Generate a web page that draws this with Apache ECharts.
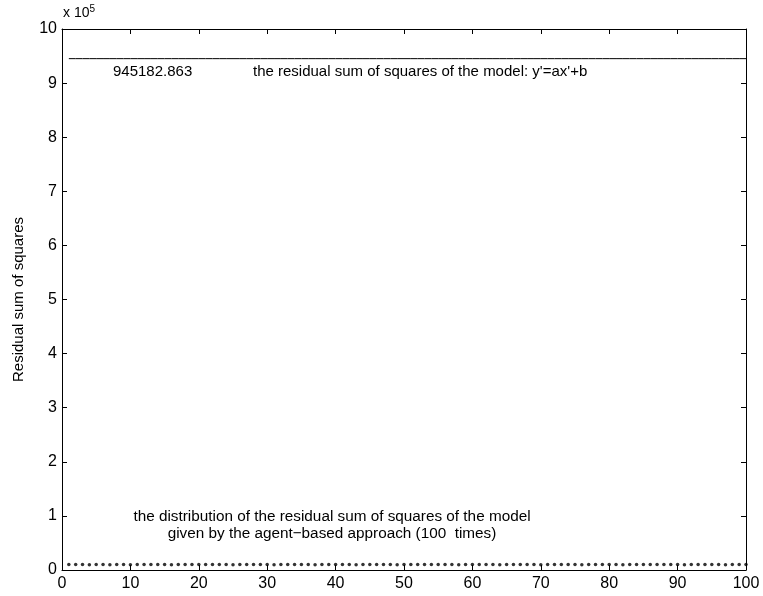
<!DOCTYPE html>
<html><head><meta charset="utf-8">
<script src="https://cdn.jsdelivr.net/npm/echarts@6/dist/echarts.min.js"></script>
<style>html,body{margin:0;padding:0;background:#fff}#c{width:763px;height:596px}</style>
</head><body><div id="c"></div>
<script>
var xTicks = [0,10,20,30,40,50,60,70,80,90,100];
var modelRSS = 945182.863;
var runs = [];
for (var i = 1; i <= 100; i++) runs.push(i);
var agentRSS = [
10120,9980,10250,9870,10060,10190,9930,10110,10040,9890,
10210,10010,9950,10160,10080,9910,10230,10050,9970,10140,
10020,9940,10180,10090,9880,10200,10030,9960,10150,10070,
9920,10240,10000,9990,10130,10060,9900,10170,10040,9950,
10220,10010,9930,10110,10080,9970,10190,10030,9890,10160,
10050,9940,10210,10000,9980,10120,10070,9910,10230,10020,
9960,10140,10090,9900,10180,10040,9950,10200,10010,9930,
10150,10060,9980,10110,10080,9920,10240,10030,9970,10130,
10050,9890,10170,10020,9940,10190,10070,9960,10100,10040,
9910,10220,10000,9990,10160,10080,9930,10120,10050,9970
];
var modelLine = runs.map(function(r){ return [r, modelRSS]; });
var agentPts = runs.map(function(r, k){ return [r, agentRSS[k]]; });

var FONT = 'Liberation Sans';
var chart = echarts.init(document.getElementById('c'), null, {renderer:'canvas'});
var axLine = {show:true, onZero:false, lineStyle:{color:'#000', width:1}};
var tick = {show:true, inside:true, length:5, lineStyle:{color:'#000'}};
chart.setOption({
  backgroundColor:'#fff',
  animation:false,
  grid:{left:62, right:17, top:29, bottom:26, show:false},
  xAxis:[
    {type:'value', min:0, max:100, interval:10, position:'bottom',
     axisLine:axLine, axisTick:tick, splitLine:{show:false},
     axisLabel:{color:'#000', fontFamily:FONT, fontSize:16, margin:6}},
    {type:'value', min:0, max:100, interval:10, position:'top',
     axisLine:axLine, axisTick:tick, splitLine:{show:false}, axisLabel:{show:false}}
  ],
  yAxis:[
    {type:'value', min:0, max:1000000, interval:100000, position:'left',
     axisLine:axLine, axisTick:tick, splitLine:{show:false},
     name:'Residual sum of squares', nameLocation:'middle', nameGap:36,
     nameTextStyle:{color:'#000', fontFamily:FONT, fontSize:15},
     axisLabel:{color:'#000', fontFamily:FONT, fontSize:16, margin:5,
       formatter:function(v){ return String(Math.round(v/100000)); }}},
    {type:'value', min:0, max:1000000, interval:100000, position:'right',
     axisLine:axLine, axisTick:tick, splitLine:{show:false}, axisLabel:{show:false}}
  ],
  series:[
    {type:'line', data:modelLine, symbol:'none', lineStyle:{color:'#000', width:1}, xAxisIndex:0, yAxisIndex:0},
    {type:'scatter', data:agentPts, symbol:'circle', symbolSize:3.5, itemStyle:{color:'#000'}, xAxisIndex:0, yAxisIndex:0}
  ],
  graphic:[
    {type:'text', left:63, top:4, style:{text:'{a|x 10}{b|5}', rich:{a:{fontFamily:FONT,fontSize:14,fill:'#000'}, b:{fontFamily:FONT,fontSize:10,fill:'#000',verticalAlign:'top', padding:[0,0,8,0]}}}},
    {type:'text', left:113, top:64, style:{text:'945182.863', fontFamily:FONT, fontSize:15, fill:'#000'}},
    {type:'text', left:253, top:64, style:{text:"the residual sum of squares of the model: y'=ax'+b", fontFamily:FONT, fontSize:15, fill:'#000'}},
    {type:'text', x:332, y:508, style:{text:'the distribution of the residual sum of squares of the model\ngiven by the agent\u2212based approach (100  times)', fontFamily:FONT, fontSize:15.3, fill:'#000', align:'center', lineHeight:17}}
  ]
});
</script></body></html>
